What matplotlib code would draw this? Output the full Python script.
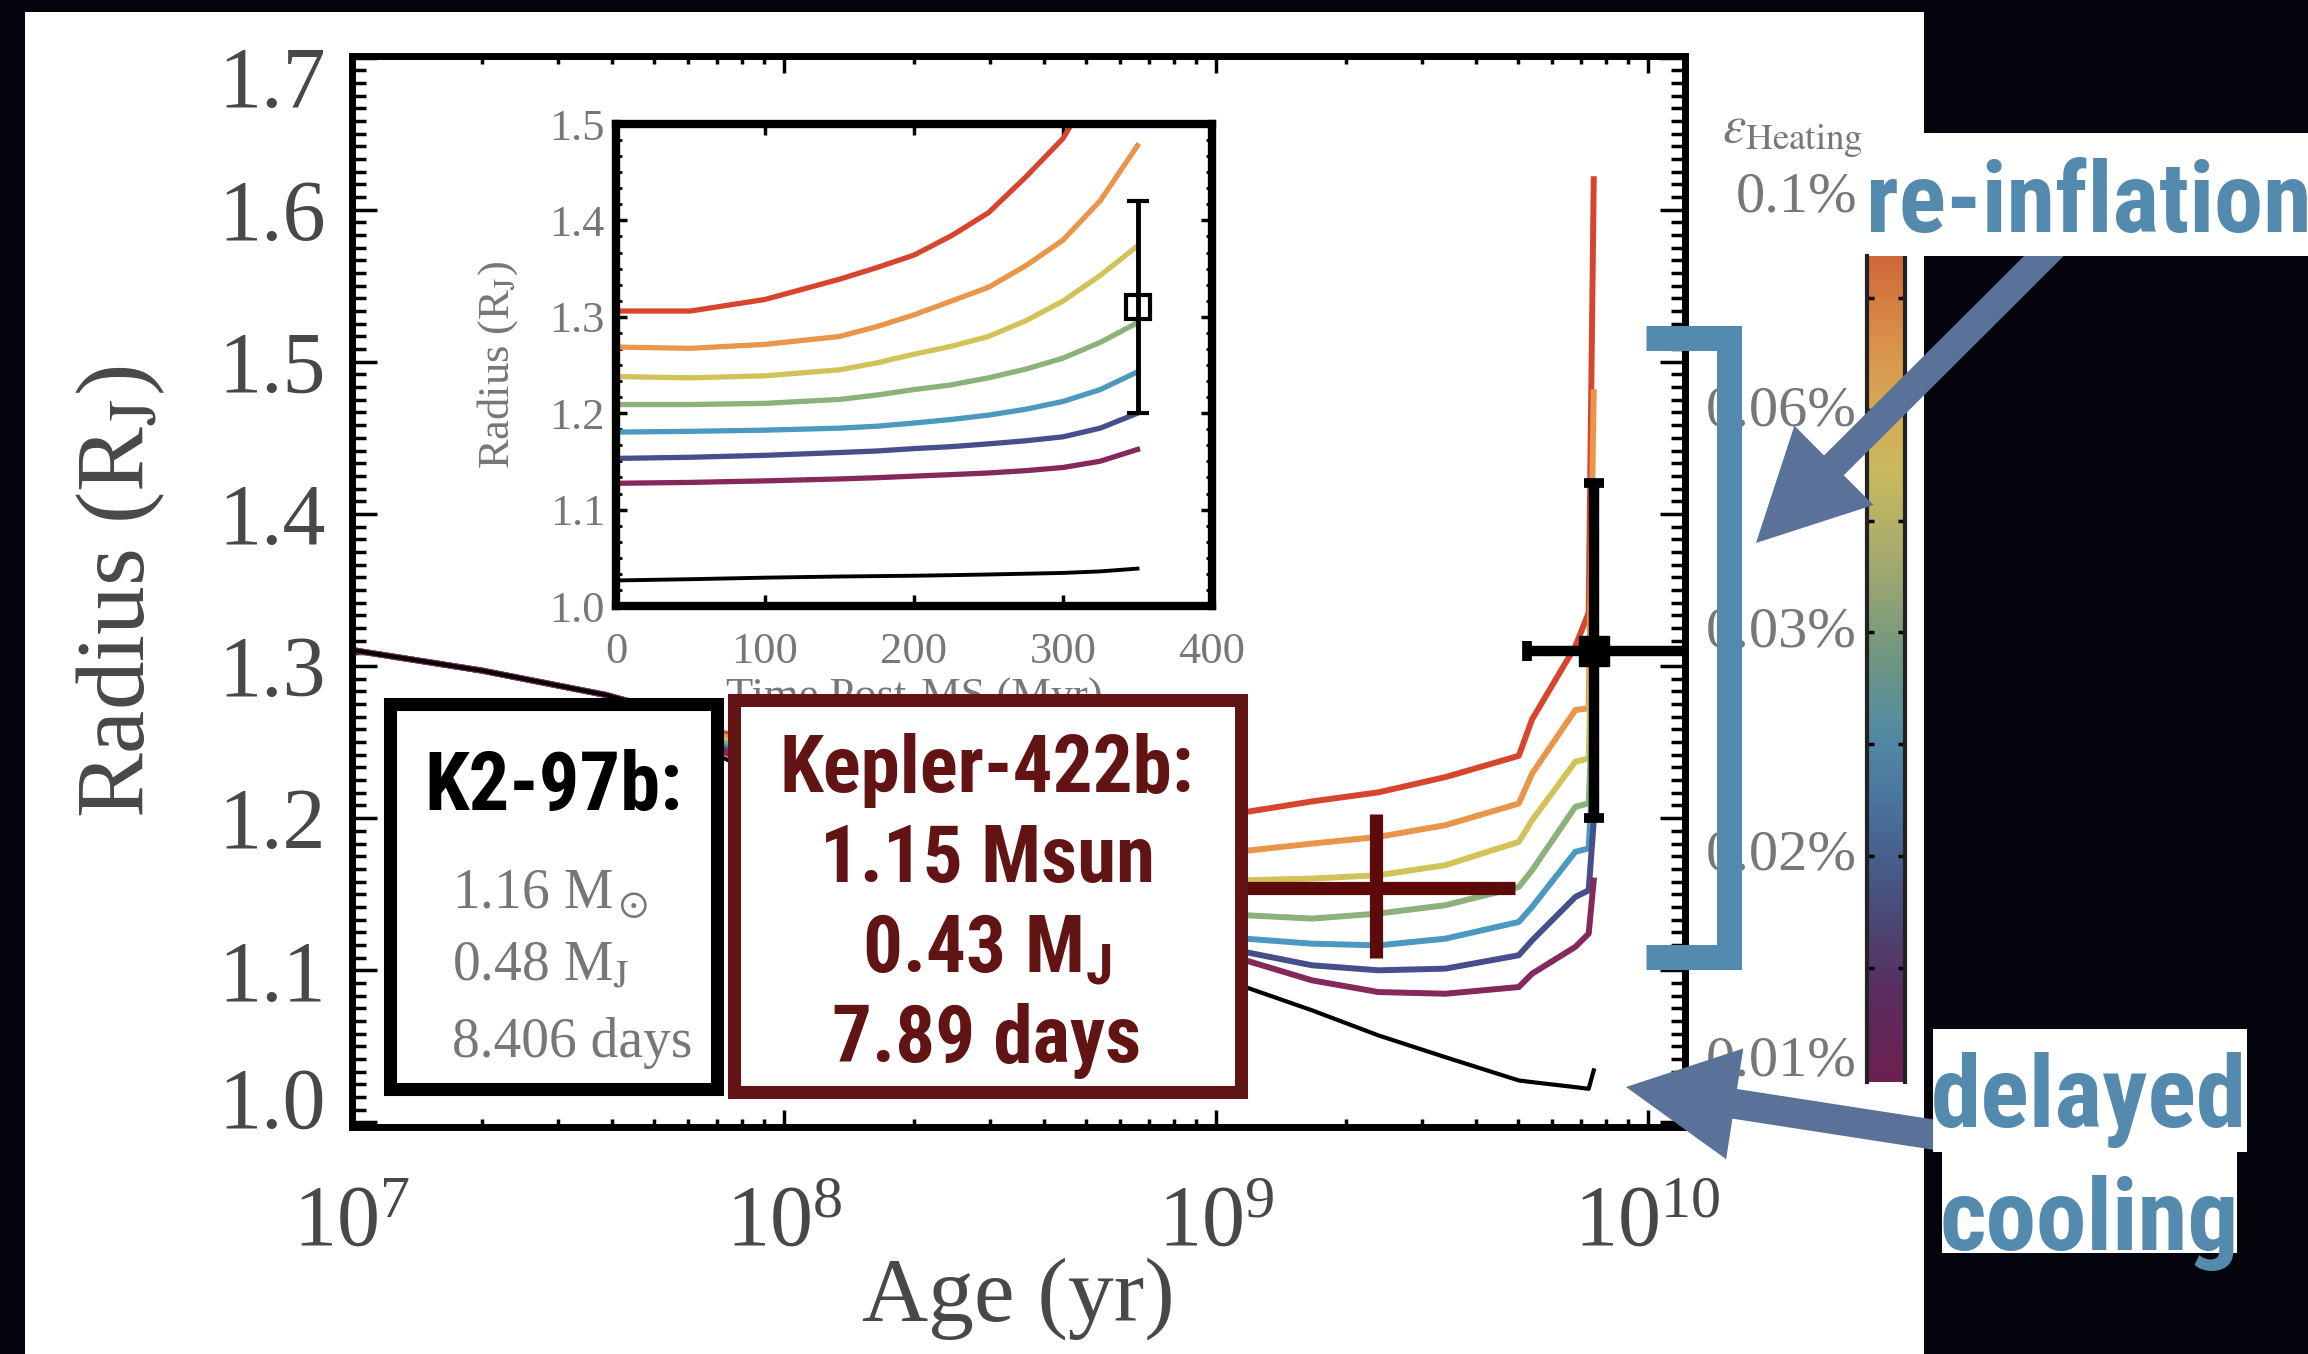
import matplotlib
matplotlib.use("Agg")
import numpy as np
import matplotlib.pyplot as plt
import matplotlib.patches as patches
from matplotlib.lines import Line2D
from matplotlib import font_manager
from matplotlib.colors import LinearSegmentedColormap
from matplotlib.transforms import ScaledTranslation
from matplotlib.ticker import (LogLocator, MultipleLocator, AutoMinorLocator,
                               NullFormatter, FormatStrFormatter)

W, H, DPI = 2308, 1354, 100

# ---------------- data ----------------
# main panel: planet radius (R_J) vs age (yr), one track per heating efficiency
age_yr = [1.0e7, 2.0e7, 3.87e7, 5.51e7, 7.18e7, 1.17e9, 1.67e9, 2.38e9,
          3.40e9, 5.03e9, 5.40e9, 6.80e9, 7.30e9, 7.50e9]
r_red     = [1.3105, 1.297, 1.281, 1.269, 1.256, 1.204, 1.211, 1.217, 1.227, 1.241, 1.265, 1.313, 1.335, 1.620]
r_orange  = [1.3105, 1.297, 1.281, 1.269, 1.254, 1.1785, 1.1833, 1.1877, 1.1954, 1.2096, 1.2294, 1.2711, 1.2722, 1.480]
r_yellow  = [1.3105, 1.297, 1.281, 1.269, 1.252, 1.1592, 1.1603, 1.1625, 1.1691, 1.1844, 1.1987, 1.2371, 1.2393, 1.375]
r_green   = [1.3105, 1.297, 1.281, 1.269, 1.250, 1.1362, 1.1340, 1.1373, 1.1428, 1.1548, 1.1658, 1.2075, 1.2097, 1.294]
r_blue    = [1.3105, 1.297, 1.281, 1.269, 1.248, 1.1208, 1.1175, 1.1164, 1.1208, 1.1318, 1.1417, 1.1779, 1.1801, 1.242]
r_indigo  = [1.3105, 1.297, 1.281, 1.269, 1.246, 1.1120, 1.1033, 1.1000, 1.1011, 1.1099, 1.1197, 1.1482, 1.1526, 1.198]
r_magenta = [1.3105, 1.297, 1.281, 1.269, 1.244, 1.1066, 1.0934, 1.0857, 1.0846, 1.0890, 1.0978, 1.1154, 1.1241, 1.159]
r_noheat  = [1.3105, 1.297, 1.281, 1.269, 1.240, 1.0890, 1.0737, 1.0572, 1.0429, 1.0276, 1.0265, 1.0232, 1.0221, 1.0342]

# inset: radius vs time after the main sequence (Myr)
t_post_ms = [0, 50, 100, 150, 175, 200, 225, 250, 275, 300, 325, 350]
ri_red     = [1.306, 1.306, 1.318, 1.339, 1.351, 1.364, 1.384, 1.408, 1.445, 1.485, 1.550, 1.620]
ri_orange  = [1.2686, 1.2673, 1.2714, 1.2796, 1.2898, 1.302, 1.3163, 1.3306, 1.353, 1.3796, 1.4204, 1.4776]
ri_yellow  = [1.238, 1.2367, 1.2388, 1.245, 1.2522, 1.2612, 1.2694, 1.2796, 1.2959, 1.3163, 1.3429, 1.3735]
ri_green   = [1.209, 1.209, 1.2102, 1.2143, 1.2188, 1.2245, 1.2294, 1.2367, 1.2457, 1.2571, 1.2735, 1.2939]
ri_blue    = [1.1804, 1.1812, 1.1824, 1.1845, 1.1865, 1.1898, 1.1935, 1.198, 1.2041, 1.2122, 1.2245, 1.2429]
ri_indigo  = [1.1531, 1.1543, 1.1563, 1.1592, 1.1608, 1.1633, 1.1653, 1.1682, 1.1714, 1.1755, 1.1845, 1.200]
ri_magenta = [1.1273, 1.1282, 1.1298, 1.1318, 1.1331, 1.1347, 1.1363, 1.138, 1.1404, 1.1437, 1.1502, 1.1624]
ri_noheat  = [1.0265, 1.0278, 1.0294, 1.0306, 1.031, 1.0314, 1.032, 1.0327, 1.0335, 1.0343, 1.0359, 1.0388]

# K2-97b measurement
k2_age, k2_r = 7.5e9, 1.31
k2_age_err = [[2.25e9], [5.0e9]]
k2_r_err = [[0.11], [0.11]]
k2_t, k2_t_r = 350, 1.31

# Kepler-422b measurement
kep_age, kep_r = 2.35e9, 1.154
kep_age_err = [[1.35e9], [2.59e9]]
kep_r_err = [[0.046], [0.049]]

# colour bar labels (heating efficiency)
cbar_labels = ['0.1%', '0.06%', '0.03%', '0.02%', '0.01%']
cbar_label_pos = [1.071, 0.812, 0.544, 0.274, 0.025]
cbar_ticks = [0.949, 0.814, 0.679, 0.545, 0.409, 0.274, 0.138]

k2_lines = ['1.16 M$_\\odot$', '0.48 M$_\\mathrm{J}$', '8.406 days']
kep_lines = ['Kepler-422b:', '1.15 Msun', '$\\mathrm{0.43\\ M_J}$', '7.89 days']

# ---------------- style ----------------
curve_colors = ['#d8452f', '#e8964a', '#d2c25a', '#8ab27a', '#4b98c0', '#464f8c', '#85285c']
cbar_stops = [(0.0, '#6c2150'), (0.108, '#5a2d5f'), (0.188, '#4b4673'), (0.269, '#465f8c'),
              (0.350, '#4b78a0'), (0.430, '#558ca0'), (0.511, '#6e9682'), (0.632, '#a5aa6e'),
              (0.737, '#c8b95f'), (0.817, '#d7aa55'), (0.898, '#da914b'), (1.0, '#d0673a')]
cmap = LinearSegmentedColormap.from_list('heat', cbar_stops)

BG = '#04040d'
GREY = '#484848'
LGREY = '#777777'
KEP = '#621414'
BLUE = '#548aad'
ARROW = '#5a7299'

available = {f.name for f in font_manager.fontManager.ttflist}
NARROW = next((n for n in ['Liberation Sans Narrow', 'Roboto Condensed', 'Open Sans Condensed']
               if n in available), 'Liberation Sans')

plt.rcParams['font.family'] = 'serif'
plt.rcParams['font.serif'] = ['Liberation Serif', 'DejaVu Serif']
plt.rcParams['mathtext.fontset'] = 'stix'
plt.rcParams['mathtext.rm'] = NARROW + ':bold'
plt.rcParams['mathtext.it'] = NARROW + ':bold'
plt.rcParams['mathtext.bf'] = NARROW + ':bold'


def frac_rect(left, top, right, bottom):
    return [left / W, 1 - bottom / H, (right - left) / W, (bottom - top) / H]


fig = plt.figure(figsize=(W / DPI, H / DPI), dpi=DPI, facecolor=BG)

# white slide panel
fig.add_artist(patches.Rectangle((25 / W, 0), (1924 - 25) / W, 1 - 12 / H,
                                 transform=fig.transFigure, facecolor='white',
                                 edgecolor='none', zorder=-5))

# ---------------- main axes ----------------
ax = fig.add_axes(frac_rect(352, 56, 1685, 1127), zorder=1)
ax.set_facecolor('white')
for r, c in zip([r_red, r_orange, r_yellow, r_green, r_blue, r_indigo, r_magenta], curve_colors):
    ax.plot(age_yr, r, color=c, lw=4.3, solid_joinstyle='round', zorder=2)
ax.plot(age_yr, r_noheat, color='black', lw=3.0, zorder=2)

ax.errorbar([kep_age], [kep_r], xerr=kep_age_err, yerr=kep_r_err, fmt='none',
            ecolor='#5c0a0a', elinewidth=9.5, capsize=0, zorder=4)
ax.errorbar([k2_age], [k2_r], xerr=k2_age_err, yerr=k2_r_err, fmt='s', color='black',
            ms=21, elinewidth=7.5, capsize=7, capthick=7, zorder=5)

ax.set_xscale('log')
ax.set_xlim(1e7, 1.22e10)
ax.set_ylim(0.997, 1.701)
ax.xaxis.set_major_locator(LogLocator(base=10, numticks=10))
ax.xaxis.set_minor_locator(LogLocator(base=10, subs=np.arange(2, 10), numticks=40))
ax.xaxis.set_minor_formatter(NullFormatter())
ax.yaxis.set_major_locator(MultipleLocator(0.1))
ax.yaxis.set_minor_locator(AutoMinorLocator(12))
ax.yaxis.set_major_formatter(FormatStrFormatter('%.1f'))
ax.tick_params(which='both', direction='in', top=True, right=True,
               color='black', labelcolor=GREY, labelsize=62)
ax.tick_params(axis='x', which='major', length=12, width=2.5, pad=42)
ax.tick_params(axis='x', which='minor', length=6, width=2.5)
ax.tick_params(axis='y', which='major', length=18, width=2.5, pad=19)
ax.tick_params(axis='y', which='minor', length=10, width=2.5)
for s in ax.spines.values():
    s.set_linewidth(5)
ax.set_xlabel('Age (yr)', fontsize=66, color=GREY)
ax.set_ylabel('Radius (R$_\\mathrm{J}$)', fontsize=70, color=GREY)
ax.xaxis.set_label_coords(0.5, -0.122)
ax.yaxis.set_label_coords(-0.139, 0.5)

# ---------------- inset ----------------
axi = fig.add_axes(frac_rect(616, 124, 1212, 606), zorder=3)
axi.set_facecolor('white')
for r, c in zip([ri_red, ri_orange, ri_yellow, ri_green, ri_blue, ri_indigo, ri_magenta], curve_colors):
    axi.plot(t_post_ms, r, color=c, lw=3.8, solid_joinstyle='round')
axi.plot(t_post_ms, ri_noheat, color='black', lw=2.8)
axi.errorbar([k2_t], [k2_t_r], yerr=k2_r_err, fmt='s', mfc='none', mec='black', ms=17,
             mew=3, ecolor='black', elinewidth=3.5, capsize=8, capthick=3.5, zorder=4)
axi.set_xlim(0, 400)
axi.set_ylim(1.0, 1.5)
axi.xaxis.set_major_locator(MultipleLocator(100))
axi.yaxis.set_major_locator(MultipleLocator(0.1))
axi.yaxis.set_minor_locator(AutoMinorLocator(6))
axi.yaxis.set_major_formatter(FormatStrFormatter('%.1f'))
axi.tick_params(which='both', direction='in', top=True, right=True, color='black',
                labelcolor=LGREY, labelsize=32)
axi.tick_params(axis='x', which='major', length=8, width=2.5, pad=19)
axi.tick_params(axis='y', which='major', length=8, width=2.5, pad=8)
axi.tick_params(axis='y', which='minor', length=4, width=2)
for s in axi.spines.values():
    s.set_linewidth(6)
axi.set_xlabel('Time Post-MS (Myr)', fontsize=32, color=LGREY)
axi.set_ylabel('Radius (R$_\\mathrm{J}$)', fontsize=32, color=LGREY)
axi.xaxis.set_label_coords(0.5, -0.149)
axi.yaxis.set_label_coords(-0.161, 0.5)

# ---------------- colour bar ----------------
cax = fig.add_axes(frac_rect(1867, 256, 1905, 1082), zorder=3)
cax.imshow(np.linspace(0, 1, 256)[:, None], aspect='auto', cmap=cmap,
           origin='lower', extent=[0, 1, 0, 1])
cax.set_xlim(0, 1)
cax.set_ylim(0, 1)
cax.set_xticks([])
cax.set_yticks(cbar_ticks)
cax.tick_params(axis='y', direction='in', left=True, right=True, labelleft=False,
                length=5, width=2.5, color='black')
for side in ['top', 'bottom']:
    cax.spines[side].set_visible(False)
for side in ['left', 'right']:
    cax.spines[side].set_linewidth(3)
    cax.spines[side].set_color('#222222')
for lab, pos in zip(cbar_labels, cbar_label_pos):
    cax.text(-0.26, pos, lab, transform=cax.transAxes, ha='right', va='center',
             fontsize=42, color=LGREY, clip_on=False)

# ---------------- slide annotations (pixel coordinates) ----------------
ov = fig.add_axes([0, 0, 1, 1], zorder=10)
ov.set_xlim(0, W)
ov.set_ylim(H, 0)
ov.axis('off')
ov.patch.set_alpha(0)

ov.text(1722, 135, '$\\epsilon_{\\rm Heating}$', ha='left', va='center', fontsize=38,
        color=LGREY, math_fontfamily='stix')

# re-inflation arrow and label
ov.add_patch(patches.FancyArrow(2070, 230, 1756 - 2070, 543 - 230, width=28,
                                head_width=112, head_length=110,
                                length_includes_head=True, color=ARROW, lw=0, zorder=1))
ov.add_patch(patches.Rectangle((1888, 133), W - 1888, 123, facecolor='white',
                               edgecolor='none', zorder=2))
ov.text(1866, 232, 're-inflation', ha='left', va='baseline', fontsize=71,
        fontfamily=NARROW, fontweight='bold', color=BLUE, zorder=3)

# bracket over the re-inflated tracks
ov.add_line(Line2D([1646, 1728.5, 1728.5, 1646], [337.5, 337.5, 956.5, 956.5],
                   lw=18, color=BLUE, solid_joinstyle='miter', solid_capstyle='butt',
                   zorder=2))

# delayed cooling arrow and label
ov.add_patch(patches.FancyArrow(1936, 1135, 1626 - 1936, 1087 - 1135, width=30,
                                head_width=112, head_length=110,
                                length_includes_head=True, color=ARROW, lw=0, zorder=1))
box_d = patches.Rectangle((1933, 1029), 314, 123, facecolor='white', edgecolor='none', zorder=2)
box_c = patches.Rectangle((1942, 1152), 295, 101, facecolor='white', edgecolor='none', zorder=2)
ov.add_patch(box_d)
ov.add_patch(box_c)
ov.text(2089, 1127, 'delayed', ha='center', va='baseline', fontsize=73,
        fontfamily=NARROW, fontweight='bold', color=BLUE, zorder=3)
t_cool = ov.text(2089, 1250, 'cooling', ha='center', va='baseline', fontsize=73,
                 fontfamily=NARROW, fontweight='bold', color=BLUE, zorder=3)
t_cool.set_clip_path(box_c)

# K2-97b box
ov.add_patch(patches.Rectangle((389.5, 703.5), 327, 385, facecolor='white',
                               edgecolor='black', lw=9.4, zorder=2))
ov.text(553, 810, 'K2-97b:', ha='center', va='baseline', fontsize=58,
        fontfamily=NARROW, fontweight='bold', color='black', zorder=3)
for line, y in zip(k2_lines, [907, 980, 1057]):
    ov.text(452, y, line, ha='left', va='baseline', fontsize=40, color=LGREY, zorder=3)

# Kepler-422b box
ov.add_patch(patches.Rectangle((733.5, 699.5), 507, 392, facecolor='white',
                               edgecolor=KEP, lw=9.4, zorder=2))
for line, y in zip(kep_lines, [792, 882, 972, 1062]):
    ov.text(987, y, line, ha='center', va='baseline', fontsize=57, fontfamily=NARROW,
            fontweight='bold', color=KEP, math_fontfamily='custom', zorder=3)

# the end labels of the radius axis sit pulled in from the frame corners
fig.canvas.draw()
for tick in ax.yaxis.get_major_ticks():
    loc = tick.get_loc()
    if abs(loc - 1.7) < 1e-6:
        shift = -19
    elif abs(loc - 1.0) < 1e-6:
        shift = 25
    else:
        continue
    tick.label1.set_transform(tick.label1.get_transform()
                              + ScaledTranslation(0, shift / DPI, fig.dpi_scale_trans))

fig.savefig('out.png', dpi=DPI, facecolor=fig.get_facecolor())
